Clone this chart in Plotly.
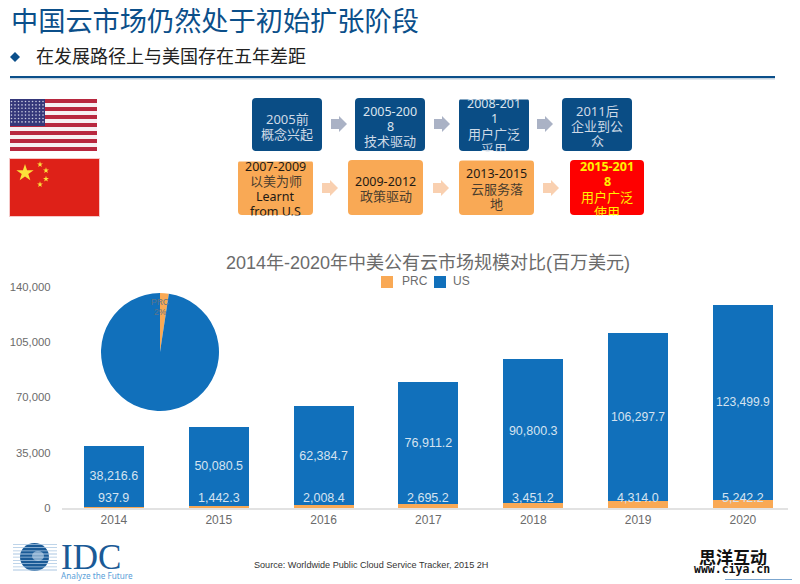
import plotly.graph_objects as go

# chart data
years = ["2014", "2015", "2016", "2017", "2018", "2019", "2020"]
prc = [937.9, 1442.3, 2008.4, 2695.2, 3451.2, 4314.0, 5242.2]
us = [38216.6, 50080.5, 62384.7, 76911.2, 90800.3, 106297.7, 123499.9]
y_ticks = [0, 35000, 70000, 105000, 140000]
pie_labels = ["PRC", "US"]
pie_values = [prc[0], us[0]]

# roadmap boxes: x0, x1, lines of text
us_boxes = [
    (252, 322, ["2005前", "概念兴起"]),
    (355, 425, ["2005-200", "8", "技术驱动"]),
    (459, 529, ["2008-201", "1", "用户广泛", "采用"]),
    (562, 632, ["2011后", "企业到公", "众"]),
]
cn_boxes = [
    (238, 313, ["2007-2009", "以美为师", "Learnt", "from U.S"]),
    (348, 423, ["2009-2012", "政策驱动"]),
    (459, 534, ["2013-2015", "云服务落", "地"]),
    (570, 644, ["2015-201", "8", "用户广泛", "使用"]),
]
us_arrows = [331, 434, 537]
cn_arrows = [322, 433, 543]

BLUE = "#1170bb"
ORANGE = "#f9a955"
NAVY = "#0a4d85"
GREY = "#6b6b6b"
CJK = "Noto Sans, Noto Sans CJK SC"
SANS = "Liberation Sans, Noto Sans CJK SC"
OUTLINE = "1px 0 0 white, -1px 0 0 white, 0 1px 0 white, 0 -1px 0 white, 1px 1px 0 white, -1px -1px 0 white"

# the page body has an 8px margin, so the figure is 792x576 and starts at (8, 8)
PAGE = 8
FIG_W = 800 - PAGE
FIG_H = 584 - PAGE


def px(x):
    return (x - PAGE) / FIG_W


def py(y):
    return 1 - (y - PAGE) / FIG_H


shapes = []
notes = []


def rect(x0, y0, x1, y1, color):
    shapes.append(dict(type="rect", xref="x2", yref="y2", x0=x0, y0=y0, x1=x1, y1=y1, layer="below",
                       fillcolor=color, line=dict(width=0)))


def round_box(x0, y0, x1, y1, color, r=4):
    path = (f"M{x0+r},{y0} L{x1-r},{y0} Q{x1},{y0} {x1},{y0+r} L{x1},{y1-r} Q{x1},{y1} {x1-r},{y1} "
            f"L{x0+r},{y1} Q{x0},{y1} {x0},{y1-r} L{x0},{y0+r} Q{x0},{y0} {x0+r},{y0} Z")
    shapes.append(dict(type="path", xref="x2", yref="y2", path=path, layer="below",
                       fillcolor=color, line=dict(width=0)))


def arrow(x, y, color):
    path = (f"M{x},{y-5} L{x+8},{y-5} L{x+8},{y-8} L{x+16},{y} L{x+8},{y+8} L{x+8},{y+5} L{x},{y+5} Z")
    shapes.append(dict(type="path", xref="x2", yref="y2", path=path, layer="below",
                       fillcolor=color, line=dict(width=0)))


def text(x, y, s, size, color, family=CJK, anchor="left", shadow=None):
    font = dict(size=size, color=color, family=family)
    if shadow:
        font["shadow"] = shadow
    notes.append(dict(xref="x2", yref="y2", x=x, y=y, text=s, showarrow=False, xanchor=anchor,
                      yanchor="middle", align="center" if anchor == "center" else "left", font=font))


def box_text(cx, cy, lines, latin_color, cjk_color, bold=False):
    # one annotation per line, the slide's line pitch is tighter than plotly's 1.3em
    top = cy - (len(lines) - 1) * 15 / 2
    for n, line in enumerate(lines):
        has_cjk = any(ord(c) > 0x2e80 for c in line)
        label = f"<b>{line}</b>" if bold and not has_cjk else line
        text(cx, top + n * 15, label, 13 if has_cjk else 12.5, cjk_color if has_cjk else latin_color,
             anchor="center")


def mask(x0, y0, x1, y1):
    # box text is cut off at the box edge in the slide
    notes.append(dict(xref="x2", yref="y2", x=x0, y=y0, xanchor="left", yanchor="top", text=" ",
                      showarrow=False, width=x1 - x0, height=y1 - y0, bgcolor="white",
                      borderpad=0, font=dict(size=1)))


# header
text(8.5, 20.5, "中国云市场仍然处于初始扩张阶段", 27.2, "#0b4f8a")
text(33.5, 55.5, "在发展路径上与美国存在五年差距", 18, "#222222")
shapes.append(dict(type="path", xref="x2", yref="y2", path="M15,52 L20,57 L15,62 L10,57 Z", layer="below",
                   fillcolor="#0b4f8a", line=dict(width=0)))
rect(10, 78, 775, 79.5, "#c5d2de")
rect(10, 76, 775, 78, "#0b4f8a")

# US flag
for i in range(13):
    y0 = 99 + i * 4
    rect(10, y0, 97, y0 + 4, "#b8283f" if i % 2 == 0 else "#f6f0f2")
rect(10, 99, 45, 126, "#35387a")

# China flag
rect(9, 158, 100, 217, "#f6c9c9")
rect(10, 159, 99, 216, "#de2118")

# roadmap
for x0, x1, lines in us_boxes:
    round_box(x0, 98, x1, 151, NAVY)
    box_text((x0 + x1) / 2, 126, lines, "#dbe4ee", "#cfdae6")
for x in us_arrows:
    arrow(x, 124, "#aab2c5")
for k, (x0, x1, lines) in enumerate(cn_boxes):
    round_box(x0, 160, x1, 215, "#fe0000" if k == 3 else ORANGE)
    if k == 3:
        box_text((x0 + x1) / 2, 189, lines, "#fff200", "#fff200", bold=True)
    else:
        box_text((x0 + x1) / 2, 188.5, lines, "#1f1a14", "#4a3d2e")
for x in cn_arrows:
    arrow(x, 188, "#f9d0b0")
mask(455, 86, 533, 98)
mask(455, 151, 533, 159)
mask(234, 152, 317, 160)
mask(234, 215, 317, 225)
mask(566, 215, 648, 225)

# chart title, legend and source
text(428, 263, "2014年-2020年中美公有云市场规模对比(百万美元)", 18, GREY, SANS, anchor="center")
rect(381, 276, 393, 288, ORANGE)
text(400, 281, pie_labels[0], 12, GREY, SANS)
rect(434, 276, 446, 288, BLUE)
text(451, 281, pie_labels[1], 12, GREY, SANS)
text(252, 565, "Source: Worldwide Public Cloud Service Tracker, 2015 2H", 9.1, "#333333", SANS)

# IDC logo
shapes.append(dict(type="circle", xref="x2", yref="y2", x0=20, y0=543, x1=49, y1=571, layer="below",
                   fillcolor="#1a5a96", line=dict(width=0)))
for i in range(9):
    y = 544 + i * 3.2
    rect(13, y, 57, y + 0.8, "#a9c6e2")
shapes.append(dict(type="circle", xref="x2", yref="y2", x0=32, y0=551, x1=44, y1=561, layer="below",
                   fillcolor="#c8dcee", opacity=0.6, line=dict(width=0)))
text(58.5, 557, "IDC", 35, "#1a5a96", "Liberation Serif")
text(59, 575, "Analyze the Future", 8.2, "#5aa0d8", "Noto Sans")

# watermark
rect(725, 579, 792, 580, "#7ba6cf")
rect(795, 556, 800, 584, "#6aa9dc")
text(733, 556, "<b>思洋互动</b>", 17, "#111111", "Noto Sans CJK SC", anchor="center", shadow=OUTLINE)
text(732, 569, "<b>www.ciya.cn</b>", 11.5, "#111111", "DejaVu Sans Mono", anchor="center", shadow=OUTLINE)

# pie label
text(160, 302, pie_labels[0], 8.5, "#5f7488", SANS, anchor="center")
text(160, 312, "2%", 8.5, "#5f7488", SANS, anchor="center")

# PRC values sit at the foot of the blue bars (numeric-looking categories need the index here)
for i, v in enumerate(prc):
    notes.append(dict(xref="x", yref="y", x=i, y=0, yshift=10, yanchor="middle", text=f"{v:,.1f}",
                      showarrow=False, font=dict(size=12.5, color="#d5e3f0", family=SANS)))

fig = go.Figure()
fig.add_trace(go.Bar(x=years, y=prc, name="PRC", marker=dict(color=ORANGE, line=dict(width=0))))
fig.add_trace(go.Bar(x=years, y=us, name="US", marker=dict(color=BLUE, line=dict(width=0)),
                     text=[f"{v:,.1f}" for v in us], textposition="inside", insidetextanchor="middle",
                     textangle=0, textfont=dict(size=12.5, color="#d5e3f0", family=SANS)))
fig.add_trace(go.Pie(labels=pie_labels, values=pie_values, sort=False, direction="clockwise", rotation=0,
                     textinfo="none", showlegend=False, marker=dict(colors=[ORANGE, BLUE], line=dict(width=0)),
                     domain=dict(x=[px(101), px(219)], y=[py(411), py(293)])))

# flag stars on the page-sized axes
fig.add_trace(go.Scatter(x=[10 + 3.5 * (i % 10) + 1.5 for i in range(70)],
                         y=[100.5 + 3.4 * (i // 10) + 1 for i in range(70)],
                         xaxis="x2", yaxis="y2", mode="markers", showlegend=False,
                         marker=dict(size=1.6, color="#c9cbe0")))
fig.add_trace(go.Scatter(x=[25], y=[173], xaxis="x2", yaxis="y2", mode="markers", showlegend=False,
                         marker=dict(symbol="star", size=13, color="#fbe23a", line=dict(width=0))))
fig.add_trace(go.Scatter(x=[40, 46, 46, 40], y=[164.5, 170.5, 179, 184.5], xaxis="x2", yaxis="y2",
                         mode="markers", showlegend=False,
                         marker=dict(symbol="star", size=4.5, color="#fbe23a", line=dict(width=0))))

fig.update_layout(
    width=FIG_W, height=FIG_H, margin=dict(l=0, r=0, t=0, b=0, autoexpand=False),
    paper_bgcolor="white", plot_bgcolor="rgba(0,0,0,0)",
    barmode="stack", bargap=0.428, showlegend=False,
    font=dict(family=SANS, color=GREY, size=12),
    shapes=shapes, annotations=notes,
    xaxis=dict(domain=[px(61.5), px(788)], type="category", range=[-0.5, 6.43], showgrid=False,
               showline=True, linecolor="#e2e2e2", linewidth=2, ticks="", tickfont=dict(size=12, color=GREY)),
    yaxis=dict(domain=[py(508), py(287)], range=[0, 140000], tickvals=y_ticks,
               tickformat=",", showgrid=False, zeroline=False, showline=False, ticks="",
               ticklabelstandoff=10, tickfont=dict(size=11.3, color=GREY)),
    xaxis2=dict(domain=[0, 1], range=[PAGE, 800], anchor="y2", visible=False, fixedrange=True),
    yaxis2=dict(domain=[0, 1], range=[584, PAGE], anchor="x2", visible=False, fixedrange=True),
)

fig.write_html("out.html")
